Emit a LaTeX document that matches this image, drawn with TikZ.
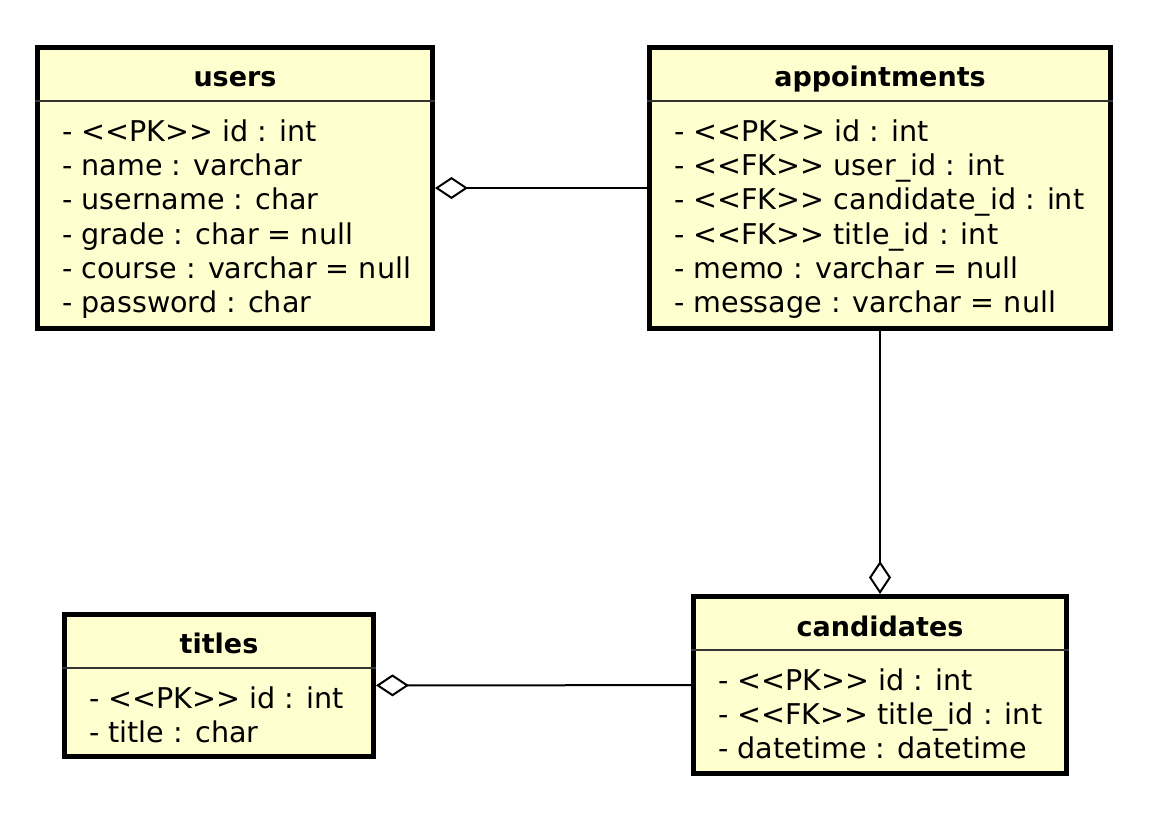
\documentclass[tikz,border=0pt]{standalone}
\usepackage{fontspec}
\setmainfont{DejaVu Sans}
\usetikzlibrary{arrows.meta}
\definecolor{umlfill}{HTML}{FEFECE}
\newcommand{\stereo}[1]{<\kern0pt<#1>\kern0pt>}

\begin{document}
\begin{tikzpicture}[x=1pt,y=-1pt,
  every node/.style={inner sep=0pt},
  tbl/.style={draw,line width=5pt,fill=umlfill},
  hdr/.style={anchor=base,font=\bfseries\fontsize{27}{32}\selectfont},
  fld/.style={anchor=base west,font=\fontsize{28.6}{34}\selectfont},
  sep/.style={line width=2pt,draw=black!80},
  agg/.style={line width=2pt,{Diamond[open,length=33pt,width=22pt]}-}]
\useasboundingbox (0,0) rectangle (1154,812);
% tables
\node[tbl,minimum width=395pt,minimum height=281pt]   (users)        at (235,188)   {};
\node[tbl,minimum width=461.5pt,minimum height=281pt] (appointments) at (880,188)   {};
\node[tbl,minimum width=309pt,minimum height=142pt]   (titles)       at (219,685.5) {};
\node[tbl,minimum width=373pt,minimum height=177pt]   (candidates)   at (880,685)   {};
\draw[sep] (users.west |- 0,101)        -- (users.east |- 0,101);
\draw[sep] (appointments.west |- 0,101) -- (appointments.east |- 0,101);
\draw[sep] (titles.west |- 0,667.5)     -- (titles.east |- 0,667.5);
\draw[sep] (candidates.west |- 0,650)   -- (candidates.east |- 0,650);
% users
\node[hdr] (usersT) at (235,86.7) {users};
\node[fld] (u1) at (62,141)   {- \stereo{PK} id : int};
\node[fld] (u2) at (62,175.3) {- name : varchar};
\node[fld] (u3) at (62,209.6) {- username : char};
\node[fld] (u4) at (62,244)   {- grade : char = null};
\node[fld] (u5) at (62,278.3) {- course : varchar = null};
\node[fld] (u6) at (62,312.6) {- password : char};
% appointments
\node[hdr] (appointmentsT) at (880,86.7) {appointments};
\node[fld] (a1) at (674,141)   {- \stereo{PK} id : int};
\node[fld] (a2) at (674,175.3) {- \stereo{FK} user\_id : int};
\node[fld] (a3) at (674,209.6) {- \stereo{FK} candidate\_id : int};
\node[fld] (a4) at (674,244)   {- \stereo{FK} title\_id : int};
\node[fld] (a5) at (674,278.3) {- memo : varchar = null};
\node[fld] (a6) at (674,312.6) {- message : varchar = null};
% titles
\node[hdr] (titlesT) at (219,653.7) {titles};
\node[fld] (t1) at (89,708)   {- \stereo{PK} id : int};
\node[fld] (t2) at (89,742.3) {- title : char};
% candidates
\node[hdr] (candidatesT) at (880,636) {candidates};
\node[fld] (c1) at (718,690)   {- \stereo{PK} id : int};
\node[fld] (c2) at (718,724.3) {- \stereo{FK} title\_id : int};
\node[fld] (c3) at (718,758.6) {- datetime : datetime};
% relations
\draw[agg] (users)      -- (appointments);
\draw[agg] (candidates) -- (appointments);
\draw[agg] (titles)     -- (candidates);
\end{tikzpicture}
\end{document}
